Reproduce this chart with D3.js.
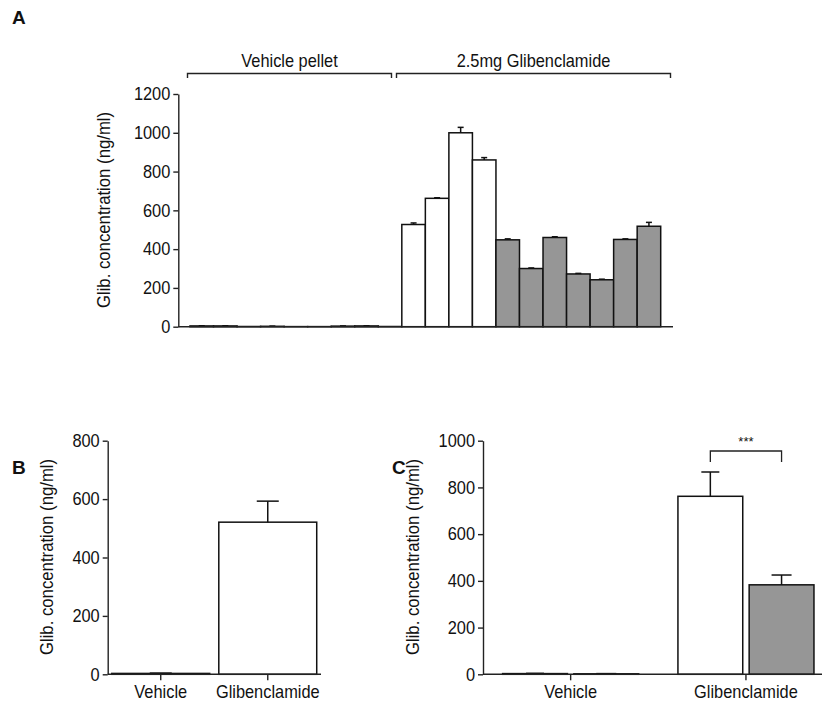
<!DOCTYPE html>
<html>
<head>
<meta charset="utf-8">
<script src="https://cdnjs.cloudflare.com/ajax/libs/d3/7.8.5/d3.min.js"></script>
<style>
  body { margin: 0; background: #fff; }
  svg { font-family: "Liberation Sans", Arial, sans-serif; }
  .axis path, .axis line { stroke: #222; stroke-width: 1.4; }
  /* the original lettering is a little narrow and tall */
  .narrow { transform-box: fill-box; transform: scaleX(0.91); }
  .yt text { transform-origin: right center; }
  .xt text { transform-origin: center; }
</style>
</head>
<body>
<div class="viewbox"></div>
<script>
// panel A - individual animals (9 vehicle, 11 glibenclamide)
const vehicleA = [4, 4, 1, 2, 0.5, 0.5, 3, 4, 1];
const vehicleAErr = [1, 1, 0, 1, 0, 0, 1, 1, 0];
const glibA = [527, 662, 1000, 860, 448, 300, 460, 272, 242, 450, 518];
const glibAErr = [8, 3, 28, 12, 5, 3, 4, 3, 3, 3, 20];
const whiteCountVehA = 4;   // rest of the group is grey
const whiteCountGlibA = 4;
const groupLabelsA = ["Vehicle pellet", "2.5mg Glibenclamide"];

// panel B
const catsB = ["Vehicle", "Glibenclamide"];
const valsB = [3, 521];
const errsB = [1, 72];

// panel C
const catsC = ["Vehicle", "Glibenclamide"];
const whiteC = [3, 762];
const whiteCErr = [1, 104];
const greyC = [2, 383];
const greyCErr = [1, 42];

const W = 825, H = 702;
const GREY = "#969696";
const FS = 18;
const ticks200 = d => d3.range(0, d + 1, 200);

const svg = d3.select(".viewbox").append("svg")
  .attr("width", W).attr("height", H);

function panelLetter(t, x, y) {
  svg.append("text").attr("x", x).attr("y", y).text(t)
    .attr("font-size", 19).attr("font-weight", "bold").attr("fill", "#111");
}

function styleAxisText(g) {
  g.selectAll("text")
    .attr("class", "narrow")
    .attr("font-family", "Liberation Sans, Arial, sans-serif")
    .attr("fill", "#111")
    .style("font-size", FS + "px");
}

function yAxis(scale, x, max) {
  const g = svg.append("g").attr("class", "axis yt")
    .attr("transform", `translate(${x},0)`)
    .call(d3.axisLeft(scale).tickValues(ticks200(max)).tickFormat(d3.format("d"))
      .tickSize(5).tickPadding(3).tickSizeOuter(0));
  styleAxisText(g);
  return g;
}

function xAxis(scale, y0) {
  const g = svg.append("g").attr("class", "axis xt")
    .attr("transform", `translate(0,${y0})`)
    .call(d3.axisBottom(scale).tickSize(6).tickPadding(5).tickSizeOuter(0));
  g.select(".domain").remove();
  styleAxisText(g);
}

function yLabel(x, y) {
  svg.append("text")
    .attr("transform", `translate(${x},${y}) rotate(-90) scale(0.91,1)`)
    .attr("text-anchor", "middle")
    .attr("font-size", 18.4).attr("fill", "#111")
    .text("Glib. concentration (ng/ml)");
}

function bars(data, y) {
  svg.append("g").selectAll("rect").data(data).enter().append("rect")
    .attr("x", d => d.x).attr("width", d => d.w)
    .attr("y", d => y(d.v)).attr("height", d => y(0) - y(d.v))
    .attr("fill", d => d.fill).attr("stroke", "#111").attr("stroke-width", 1.5);
  const e = svg.append("g").attr("stroke", "#111").attr("stroke-width", 1.5)
    .selectAll("g").data(data.filter(d => d.e > 0)).enter().append("g");
  e.append("line")
    .attr("x1", d => d.x + d.w / 2).attr("x2", d => d.x + d.w / 2)
    .attr("y1", d => y(d.v)).attr("y2", d => y(d.v + d.e));
  e.append("line")
    .attr("x1", d => d.x + d.w / 2 - d.cap / 2).attr("x2", d => d.x + d.w / 2 + d.cap / 2)
    .attr("y1", d => y(d.v + d.e)).attr("y2", d => y(d.v + d.e));
}

function xBaseline(x0, x1, y0) {
  svg.append("line").attr("x1", x0).attr("x2", x1).attr("y1", y0).attr("y2", y0)
    .attr("stroke", "#222").attr("stroke-width", 1.4);
}

// ---------- Panel A ----------
panelLetter("A", 12, 24);
const yA = d3.scaleLinear().domain([0, 1200]).range([326.7, 94]);
const allA = vehicleA.concat(glibA);
const xA = d3.scaleBand().domain(d3.range(allA.length)).range([190, 660.7]).padding(0);
const dataA = allA.map((v, i) => {
  const isVeh = i < vehicleA.length;
  const k = isVeh ? i : i - vehicleA.length;
  const white = isVeh ? k < whiteCountVehA : k < whiteCountGlibA;
  return {
    x: xA(i), w: xA.bandwidth(), v: v,
    e: isVeh ? vehicleAErr[k] : glibAErr[k],
    fill: white ? "#fff" : GREY, cap: 6
  };
});
bars(dataA, yA);
xBaseline(178.3, 673, yA(0));
yAxis(yA, 178.3, 1200);
yLabel(110, 210);

// group brackets over panel A
const brA = [
  { x0: 187.5, x1: 391.5, label: groupLabelsA[0] },
  { x0: 396.5, x1: 670.5, label: groupLabelsA[1] }
];
brA.forEach(b => {
  svg.append("path")
    .attr("d", `M${b.x0},78V73.5H${b.x1}V78`)
    .attr("fill", "none").attr("stroke", "#222").attr("stroke-width", 1.4);
  svg.append("text").attr("x", (b.x0 + b.x1) / 2).attr("y", 67)
    .attr("class", "narrow").style("transform-origin", "center")
    .attr("text-anchor", "middle").attr("font-size", 18).attr("fill", "#111")
    .text(b.label);
});

// ---------- Panel B ----------
panelLetter("B", 12, 474);
const yB = d3.scaleLinear().domain([0, 800]).range([674.3, 440.7]);
const xB = d3.scaleBand().domain(catsB).range([107.5, 321]).paddingInner(0.085).paddingOuter(0.04);
const dataB = catsB.map((c, i) => ({
  x: xB(c), w: xB.bandwidth(), v: valsB[i], e: errsB[i], fill: "#fff", cap: 22
}));
bars(dataB, yB);
xAxis(xB, yB(0));
xBaseline(107.7, 321, yB(0));
yAxis(yB, 107.7, 800);
yLabel(53, 557);

// ---------- Panel C ----------
panelLetter("C", 392, 474);
const yC = d3.scaleLinear().domain([0, 1000]).range([674.3, 440.7]);
const xC = d3.scaleBand().domain(catsC).range([483, 833.6]).paddingInner(0.224).paddingOuter(0.112);
const xSub = d3.scaleBand().domain(["white", "grey"]).range([0, xC.bandwidth()]).paddingInner(0.09);
const dataC = [];
catsC.forEach((c, i) => {
  dataC.push({ x: xC(c) + xSub("white"), w: xSub.bandwidth(), v: whiteC[i], e: whiteCErr[i], fill: "#fff", cap: 18 });
  dataC.push({ x: xC(c) + xSub("grey"), w: xSub.bandwidth(), v: greyC[i], e: greyCErr[i], fill: GREY, cap: 20 });
});
bars(dataC, yC);
xAxis(xC, yC(0));
xBaseline(483, 822, yC(0));
yAxis(yC, 483, 1000);
yLabel(419, 557);

// significance bracket between glibenclamide bars
const sx0 = xC("Glibenclamide") + xSub("white") + xSub.bandwidth() / 2;
const sx1 = xC("Glibenclamide") + xSub("grey") + xSub.bandwidth() / 2;
svg.append("path")
  .attr("d", `M${sx0},462V451H${sx1}V462`)
  .attr("fill", "none").attr("stroke", "#222").attr("stroke-width", 1.3);
svg.append("text").attr("x", (sx0 + sx1) / 2).attr("y", 446)
  .attr("text-anchor", "middle").attr("font-size", 13).attr("fill", "#111").text("***");
</script>
</body>
</html>
